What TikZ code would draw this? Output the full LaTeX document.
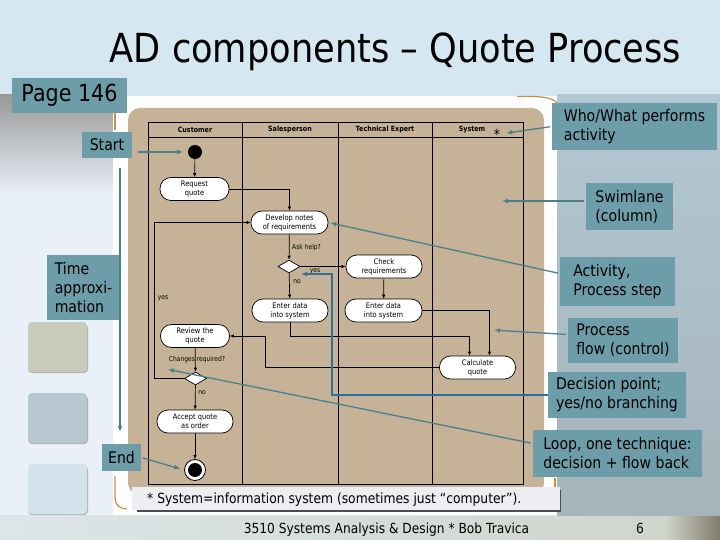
\documentclass[tikz,border=0pt]{standalone}
\usepackage{fontspec}
\setmainfont{DejaVu Sans}[FakeStretch=0.88]
\usetikzlibrary{positioning, shapes.geometric, arrows.meta, calc}

\definecolor{slidebg}{RGB}{213,231,240}
\definecolor{leftbg}{RGB}{234,240,248}
\definecolor{tanbg}{RGB}{198,179,151}
\definecolor{callbg}{RGB}{109,157,169}
\definecolor{callarr}{RGB}{74,128,142}
\definecolor{decblue}{RGB}{46,112,160}
\definecolor{frameor}{RGB}{212,140,62}
\definecolor{notebg}{RGB}{236,238,241}
\definecolor{sqA}{RGB}{200,202,186}
\definecolor{sqB}{RGB}{184,200,208}
\definecolor{sqC}{RGB}{211,228,236}
\definecolor{footA}{RGB}{220,229,232}
\definecolor{footB}{RGB}{208,213,204}
\definecolor{footC}{RGB}{128,124,106}

\begin{document}
\begin{tikzpicture}[x=1pt, y=-1pt,
  act/.style={draw, line width=0.7pt, fill=white, rounded corners=11pt, minimum width=#1,
    minimum height=23pt, inner sep=0pt, align=center, font=\fontsize{7.6}{9}\selectfont},
  act/.default=76pt,
  dec/.style={diamond, draw, line width=0.7pt, fill=white, minimum width=22pt,
    minimum height=13pt, inner sep=0pt},
  flow/.style={line width=0.7pt, -{Latex[length=4pt,width=3.5pt]}},
  guard/.style={font=\fontsize{6.8}{7}\selectfont, inner sep=0pt},
  lanehead/.style={font=\fontsize{7.2}{8}\selectfont\bfseries},
  note/.style={fill=callbg, align=left, inner sep=0pt, font=\fontsize{16}{19}\selectfont},
  ptr/.style={draw=callarr, line width=1.3pt, -{Latex[length=6pt,width=5pt]},
    shorten <=2pt, shorten >=2pt},
]
\useasboundingbox (0,0) rectangle (720,540);

% slide background
\fill[slidebg] (0,0) rectangle (720,540);
\fill[leftbg] (0,95) rectangle (113,515);
\shade[top color=black!40, middle color=black!70!brown, bottom color=leftbg] (0,95) rectangle (113,195);
\shade[top color={rgb,255:red,178;green,200;blue,210}, bottom color={rgb,255:red,166;green,180;blue,187}] (557,95) rectangle (720,515);
\shade[left color=footA, right color=footB] (0,516) rectangle (665,540);
\shade[left color=footB, right color=footC] (665,516) rectangle (720,540);
\foreach \sy/\sc in {322/sqA,393/sqB,464/sqC} {
  \fill[black!30, rounded corners=4pt] (28,\sy+2) rectangle (88,\sy+51);
  \fill[\sc, rounded corners=4pt] (28,\sy) rectangle (87,\sy+50);
}

% picture frame
\fill[white] (113,96) rectangle (557,515);
\fill[tanbg, rounded corners=12pt] (128,108) rectangle (544,495);
\draw[frameor, line width=1.2pt] (115,113) -- (115,130);
\draw[frameor, line width=1.2pt] (517,96.5) .. controls (540,96) and (552,97) .. (557,103);
\draw[frameor, line width=1.2pt] (115,476) -- (115,498) .. controls (115,505) and (120,509) .. (127,509);
\draw[frameor, line width=1.2pt] (555,478) -- (555,487);

% swimlanes
\draw[line width=0.8pt] (148,122) rectangle (523,484);
\draw[line width=0.8pt] (148,137) -- (523,137);
\foreach \lx in {242,338,432} \draw[line width=0.8pt] (\lx,122) -- (\lx,484);
\node[lanehead] (hcust) at (195,130) {Customer};
\node[lanehead] (hsales) at (290,130) {Salesperson};
\node[lanehead] (htech) at (385,130) {Technical Expert};
\node[lanehead] (hsys) at (472,130) {System};
\node[font=\fontsize{14}{14}\selectfont, inner sep=0pt] (star) at (497,134) {*};

% activities
\fill (195,152) circle (7) coordinate (start);
\node[act=69pt] (req) at (194.5,189) {Request\\quote};
\node[act=77pt] (dev) at (289.5,222.5) {Develop notes\\of requirements};
\node[dec] (ask) at (289,266.5) {};
\node[act=76pt] (check) at (384,266.5) {Check\\requirements};
\node[act=76pt] (entS) at (290,310.5) {Enter data\\into system};
\node[act=77pt] (entT) at (383.5,310.5) {Enter data\\into system};
\node[act=76pt] (calc) at (477.5,367.5) {Calculate\\quote};
\node[act=69pt] (rev) at (195,336) {Review the\\quote};
\node[dec] (chg) at (195.5,378.5) {};
\node[act=76pt] (acc) at (195,421.5) {Accept quote\\as order};
\node[circle, draw, line width=0.8pt, fill=white, minimum size=21pt, inner sep=0pt] (end) at (195,470) {};
\fill (end) circle (7);

% control flow
\draw[flow] (start) -- (req);
\draw[flow] (req.east) -| (dev.north);
\draw[flow] (dev) -- (ask);
\draw[flow] (ask) -- (check);
\draw[flow] (ask) -- (entS);
\draw[flow] (check) -- (entT);
\draw[flow] (entT.east) -| ([xshift=12pt]calc.north);
\draw[flow] (entS.south) -- ++(0,14) -| ([xshift=-8pt]calc.north);
\draw[flow] (calc.west) -- ++(-174,0) |- (rev.east);
\draw[flow] (rev) -- (chg);
\draw[flow] (chg.west) -- ++(-30,0) |- (dev.west);
\draw[flow] (chg) -- (acc);
\draw[flow] (acc) -- (end);
\node[guard, anchor=west] (gask) at (292,248) {Ask help?};
\node[guard] (gyes) at (315,271) {yes};
\node[guard] (gno) at (297,282) {no};
\node[guard] (gchg) at (197,360) {Changes required?};
\node[guard] (gyes2) at (163,298) {yes};
\node[guard] (gno2) at (202,393) {no};

% footnote
\fill[black!70] (137,490) rectangle (561,512);
\fill[notebg] (132,487) rectangle (560,510);
\node[anchor=base west, inner sep=0pt, font=\fontsize{14}{16}\selectfont] (fnote) at (147,503) {* System=information system (sometimes just “computer”).};

% title and footer
\node[anchor=base, inner sep=0pt, font=\fontsize{40}{44}\selectfont] (title) at (395.5,63) {AD components – Quote Process};
\node[anchor=base, inner sep=0pt, font=\fontsize{13.9}{16}\selectfont] (foot) at (386.5,533) {3510 Systems Analysis \& Design * Bob Travica};
\node[anchor=base, inner sep=0pt, font=\fontsize{13.9}{16}\selectfont] (pgno) at (640,533) {6};

% callouts
\node[fill=callbg, minimum width=115pt, minimum height=35pt, inner sep=0pt, font=\fontsize{23.5}{26}\selectfont] (page) at (69.5,95.5) {Page 146};
\node[note, minimum width=50pt, minimum height=26pt] (startlbl) at (107,145) {Start};
\node[note, minimum width=165pt, minimum height=47pt] (who) at (634.5,126.5) {Who/What performs\\activity};
\node[note, minimum width=87pt, minimum height=47pt] (swim) at (629.5,206.5) {Swimlane\\(column)};
\node[note, minimum width=73pt, minimum height=65pt] (timelbl) at (83.5,287.5) {Time\\approxi-\\mation};
\node[note, minimum width=115pt, minimum height=49pt] (actl) at (617.5,281.5) {Activity,\\Process step};
\node[note, minimum width=110pt, minimum height=45pt] (procfl) at (623,340.5) {Process\\flow (control)};
\node[note, minimum width=138pt, minimum height=46pt] (decbox) at (617,395) {Decision point;\\yes/no branching};
\node[note, minimum width=169pt, minimum height=47pt] (loopbox) at (617.5,453.5) {Loop, one technique:\\decision + flow back};
\node[note, minimum width=39pt, minimum height=27pt] (endlbl) at (121.5,457.5) {End};

% pointers
\coordinate (t0) at (120,168);
\coordinate (t1) at (120,432);
\coordinate (lanept) at (500,201);
\coordinate (flowpt) at (492,330);
\coordinate (decpt) at (301,274);
\coordinate (looppt) at (166,369);
\draw[ptr, shorten <=0pt, shorten >=0pt] (t0) -- (t1);
\draw[ptr, shorten <=6pt, shorten >=5pt] (startlbl.east |- start) -- ([xshift=-7pt]start);
\draw[ptr, shorten >=6pt] (who.west) -- (star.east);
\draw[ptr] (swim.west |- lanept) -- (lanept);
\draw[ptr] ([yshift=8pt]actl.west) -- (dev.east);
\draw[ptr] ([yshift=6pt]procfl.west) -- (flowpt);
\draw[ptr] ([yshift=10pt]loopbox.west) -- (looppt);
\draw[ptr, shorten >=4pt] (endlbl.east) -- (end.west);
\draw[draw=decblue, line width=1.6pt, -{Latex[length=6pt,width=5pt]}] (decbox.west) -- ++(-216,0) |- (decpt);
\end{tikzpicture}
\end{document}
